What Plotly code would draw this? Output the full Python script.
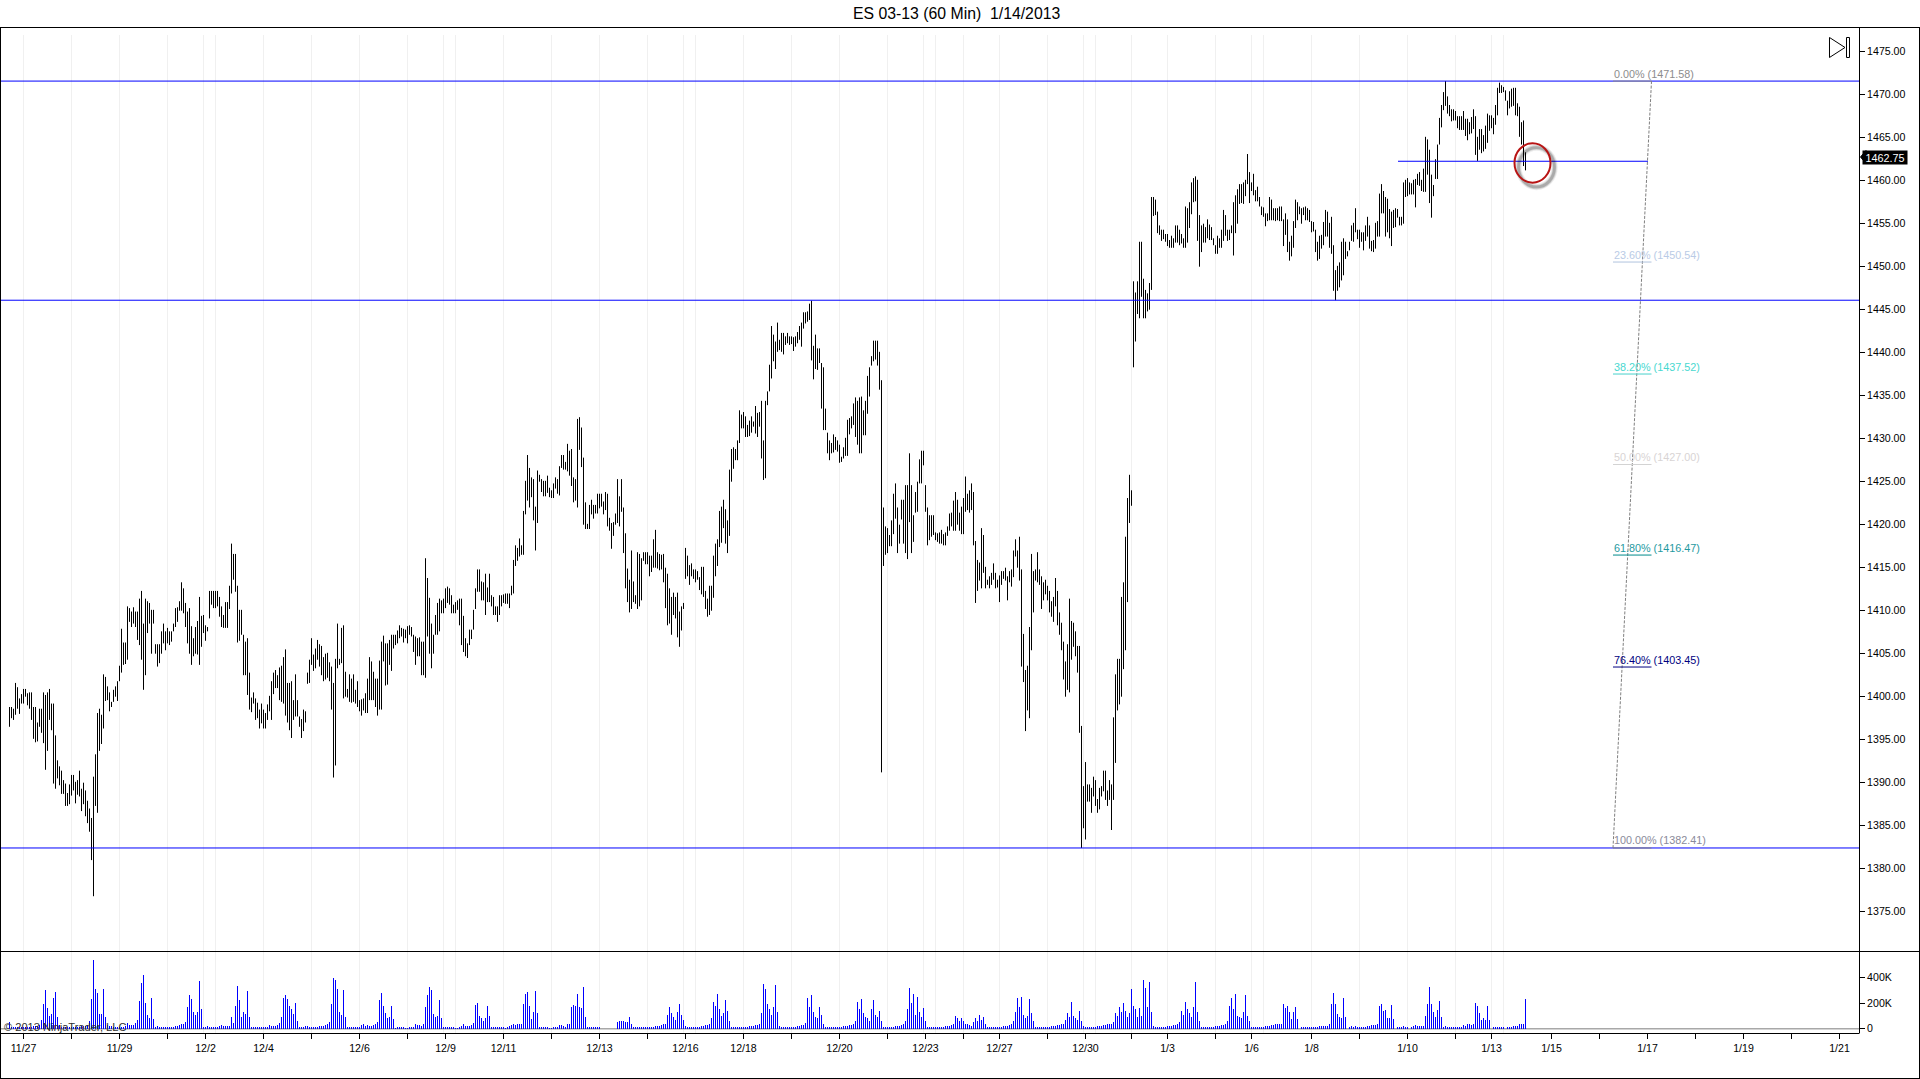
import plotly.graph_objects as go

FONT = "Liberation Sans"
W, H = 1920, 1079

title_text = "ES 03-13 (60 Min)  1/14/2013"
copyright_text = "© 2013 NinjaTrader, LLC"
last_price = 1462.75

# High/low of every 60 minute bar, left to right
bars_nov_dec = [
(1398.8,1396.5),(1398.8,1397.5),(1398.6,1397.3),(1401.6,1397.9),(1401.1,1398.6),(1399.8,1398),(1400.3,1399.2),(1400.9,1399.2),(1400.9,1400),(1400.4,1399),
(1400.5,1398.6),(1400.5,1397.3),(1398.8,1395.1),(1398.8,1394.7),(1397,1394.8),(1398.6,1396.5),(1398.6,1395.8),(1400.5,1394.6),(1400.2,1391.5),(1400.5,1393.7),
(1400.9,1397.3),(1399.2,1396.1),(1399.2,1389.9),(1395.5,1389.3),(1392.6,1390.5),(1391.9,1389.7),(1391.4,1388.7),(1390.3,1388.7),(1389.9,1387.3),(1388.8,1387.3),
(1389.8,1387.5),(1390.9,1388.5),(1390.9,1389.1),(1390.1,1387.6),(1390.3,1388.6),(1391.4,1388.4),(1389.3,1386.7),(1390,1387.5),(1389.1,1386.1),(1387.9,1385.3),
(1387,1384.3),(1385.9,1381),(1390.7,1376.8),(1393.3,1387.3),(1398.1,1386.5),(1398.6,1393.7),(1397.9,1394.5),(1402.6,1396.3),(1402.3,1399.5),(1401.2,1399.6),
(1400.5,1398.3),(1399.4,1398.8),(1400.8,1399.4),(1401.2,1400),(1401.8,1399.5),(1403.6,1401.8),(1407.9,1402.8),(1406.3,1403.7),(1406.3,1403.8),(1410.5,1404.3),
(1410.3,1408.7),(1409.9,1408.1),(1410.4,1408.5),(1409.9,1408.1),(1409.9,1406.6),(1411.4,1406),(1412.3,1404.3),(1408.5,1400.8),(1411.4,1402.5),(1411.1,1407.4),
(1410.9,1408.5),(1410.1,1405),(1410.1,1408.5),(1406.1,1405),(1406.1,1403.5),(1406.1,1403.9),(1407.6,1405),(1408.5,1406.2),(1407.6,1405.4),(1408,1406.2),
(1407.6,1406),(1407.6,1406.4),(1408.5,1407.6),(1410.3,1408.1),(1410.4,1408.7),(1411.1,1410),(1413.3,1410),(1412.6,1409.7),(1410.9,1408.1),(1409.9,1406.2),
(1410.3,1405),(1408.2,1403.7),(1406.8,1404.7),(1408.1,1405),(1408.8,1404.9),(1411.6,1403.7),(1409.4,1405.8),(1409.5,1407.4),(1408.3,1406.5),(1408.1,1407.6),
(1412.3,1409.1),(1412.3,1410.7),(1412.3,1410.3),(1412.3,1410.3),(1412.3,1410.5),(1411.6,1409.3),(1410.5,1408.1),(1409.5,1408),(1411,1408),(1411,1408),(1412.9,1410.2),
(1417.8,1412),(1416.6,1413.6),(1416.6,1412.2),(1412.9,1406.3),(1410.1,1406.5),(1410.1,1407.2),(1407.2,1402.5),(1406.4,1402.5),(1406.8,1400.2),(1402.8,1398.5),
(1399.9,1398.2),(1400.5,1399.2),(1399.8,1397.3),(1399.3,1397.5),(1398.5,1396.3),(1399.2,1396.9),(1398.5,1396.3),(1398.1,1396.3),(1399.1,1397.3),(1400.1,1398.3),
(1401.8,1397.3),(1402.8,1400.3),(1403.1,1401),(1402.5,1401),(1403.4,1399.6),(1403.6,1399.4),(1404.6,1399.2),(1405.5,1397.8),(1401.6,1397),(1401.6,1396.1),
(1401.8,1395.2),(1399.6,1397.3),(1402.6,1397.7),(1399.6,1397.7),(1397.7,1396.5),(1397.4,1395.2),(1398.5,1396),(1398.3,1397),(1402.8,1401.5),(1404.3,1401.6),
(1406.8,1403.7),(1404.9,1403),(1405.6,1403.3),(1406.6,1404.3),(1406.1,1403.5),(1405.9,1402.5),(1404.6,1401.8),(1405,1402),(1405.1,1402.2),(1404,1401.8),
(1403.5,1398.5),(1401.6,1390.6),(1404.4,1392),(1408.5,1403.3),(1404.4,1403.7),(1408,1403.9),(1408.3,1399.8),(1402.9,1400),(1400.9,1399.9),(1402.6,1399.4),
(1402.1,1399.3),(1402.6,1399.4),(1400.8,1399.2),(1401.8,1398.8),(1399.6,1398.3),(1399.7,1397.8),(1399.8,1398.4),(1400.4,1398.1),(1402.1,1398.1),(1404.6,1399.6),
(1404.1,1399.6),(1402.9,1399.6),(1402.1,1398.8),(1402.1,1397.8),(1404.2,1398.5),(1406.4,1398.5),(1407.1,1404.1),(1406.2,1401.3),(1406.2,1401.4),(1406.6,1403.7),
(1407.2,1403),(1407.2,1405.6),(1407.2,1406),(1407.7,1406.2),(1408.3,1406.8),(1408,1407),(1407.9,1406.3),(1407.8,1406.8),(1408.2,1406.2),(1408.3,1407.2),
(1408.1,1407),(1407.2,1405.2),(1407,1403.7),(1406.8,1404.7),(1406.9,1404.7),(1406.4,1402.5),(1406.4,1402.5),(1416.1,1402.2),(1413.8,1407),(1411.5,1405),
(1408.5,1403.3),(1407.2,1405),(1409.5,1407.2),(1410.9,1407.2),(1411.4,1407.6),(1411.2,1409.7),(1411.4,1409.7),(1412.6,1410.3),(1412.8,1410.9),(1412.6,1410.7),
(1411.8,1409.7),(1410.7,1409.7),(1411,1409.7),(1411.2,1410.1),(1411.4,1408.3),(1411.4,1406),(1409.4,1405.2),(1406.8,1404.7),(1406.2,1404.5),(1407.8,1406),
(1407.8,1406.7),(1410.1,1407.8),(1412.6,1410.2),(1414.8,1412.2),(1414.8,1412.2),(1413.4,1411.2),(1413.3,1411.2),(1414.3,1409.5),(1412.7,1411),(1414.3,1411),
(1411.8,1410.5),(1411.6,1409.5),(1410.5,1409.5),(1410.5,1408.7),(1411.8,1409.5),(1411.8,1410.5),(1411.9,1410.9),(1412,1410.8),(1412,1410.8),(1412,1410.3),
(1412.9,1411.8),(1415.9,1412),(1417.6,1415.2),(1417.3,1415.8),(1418.4,1416.3),(1417.6,1416.5),(1421.6,1416.5),(1425.1,1421.2),
]
bars_dec_b = [
(1428.1,1422.8),(1426.6,1422),(1425.5,1423.2),(1425.3,1420.5),(1422.1,1417),(1426.3,1420.2),(1425.8,1425),(1425.3,1423.8),(1425.1,1423.3),(1425.1,1423.3),
(1425.7,1423.7),(1424.3,1423.2),(1424,1423.1),(1424.8,1423.1),(1425.5,1424.2),(1425.3,1423.6),(1426.8,1423.4),(1428.1,1426.6),(1428.1,1426.4),(1427.3,1426.4),
(1429.4,1426.2),(1428.6,1425.7),(1428.8,1424.5),(1425.5,1422.6),(1425.3,1422.8),(1432.3,1422),(1432.5,1428.7),(1431.3,1426.7),(1427.8,1420),(1422.6,1419.5),
(1420.1,1419.5),(1422.3,1419.5),(1422.9,1421.2),(1422.3,1420.7),(1422.3,1421.3),(1423.6,1421.3),(1423.6,1421.9),(1423.6,1422.1),(1422.7,1421.2),(1423.8,1421.7),
(1423.6,1419.8),(1420.8,1419.3),(1420.2,1417.2),(1420.3,1418.7),(1421.3,1420),(1425.3,1420.2),(1423.3,1419.8),(1425.3,1421.5),(1422,1416.7),(1419,1412.6),
(1414.9,1411),(1413.6,1409.8),(1417,1410.2),(1413.4,1411),(1411.8,1410.8),(1416.8,1410.2),(1416.6,1410.5),(1416.1,1411.2),(1416.8,1415.8),(1416.8,1415.4),
(1416.8,1415.4),(1416.4,1414),(1416.4,1414.5),(1418.3,1415),(1419.4,1415),(1416.8,1414.9),(1416.6,1414.7),
]
bars_dec_c = [
(1416.5,1414.8),(1416.6,1413.3),(1415,1410.3),(1414.3,1408.3),(1412.6,1408.5),(1411.6,1407.2),(1412.1,1409.5),(1411.6,1409.1),(1412.1,1406.9),(1409.9,1405.8),
(1410.5,1407.7),(1410.9,1410.2),(1417.3,1413.7),(1416.4,1414),(1415.3,1413),(1415.5,1414),(1414.8,1413.7),(1414.8,1413.3),(1414.6,1413.6),(1413.9,1412.4),
(1415.1,1411.9),(1415.1,1411.6),(1412.3,1410.2),(1411.4,1409.3),(1412.9,1409.5),(1412.9,1410),(1416.4,1411.5),(1417.8,1414),(1418.3,1415.2),(1421.6,1417.4),(1422.1,1417.9),
(1422.9,1419.6),(1421.8,1417.8),(1420.5,1416.7),(1426.4,1418.7),(1428.8,1425),(1429,1426.5),(1428.8,1427.5),(1429.8,1427.5),(1433.3,1429.5),(1432.8,1431.2),
(1433.1,1431.2),(1432.6,1430.2),(1431.6,1430.2),(1432.1,1430.3),(1432.6,1430.7),(1432,1431.4),(1433.8,1430.6),(1433,1430.2),(1433.1,1431.4),(1434.4,1427.7),
(1429.8,1425.2),(1434.4,1425.4),(1435.5,1433.9),(1438.6,1435.5),(1443.1,1437),(1442.1,1439),(1441.3,1438.1),(1443.5,1440.1),(1441.5,1440.3),(1442.3,1440.1),
(1442.3,1439.8),(1441.9,1440.9),(1442.3,1441.1),(1441.9,1440.9),(1441.9,1441),(1441.8,1440.2),(1441.9,1440.7),(1442.4,1441.1),(1443.1,1441.5),(1443.5,1440.7),
(1444.7,1442.8),(1444.7,1443.4),(1444.8,1443.6),(1445.7,1443.8),(1446.05,1439.1),(1440.8,1436.9),(1442.1,1438.1),(1440.5,1438),(1440.5,1438.8),(1438.8,1433.5),
(1438.3,1431),(1433.5,1431),(1430.7,1428.3),(1429.8,1427.5),(1429.5,1428.3),(1430.5,1428.4),(1430.2,1428.7),(1429.8,1428.5),(1429.3,1427.2),(1427.9,1427.3),
(1429,1427.7),(1430.1,1428),(1432.2,1428),(1432.4,1430.5),(1432.6,1431.2),(1434.1,1431.6),(1434.8,1430.2),(1434.4,1429.3),(1434.8,1428.3),(1434.9,1428.3),
(1433.3,1430.4),(1434.4,1430.4),(1437.3,1432.9),(1438.3,1434.9),(1439.6,1438.5),(1441.4,1439),(1441.4,1439.2),(1441.4,1438.5),(1440.1,1435.7),(1436.8,1391.2),
]
bars_dec_d = [
(1422,1415.2),(1419.8,1416.5),(1419.6,1416.7),(1418.8,1417.5),(1420.5,1417.5),(1423.6,1418.9),(1424.8,1420.7),(1422,1416.7),(1420,1417.8),(1422.9,1420.6),
(1422.9,1417.8),(1424.6,1416.7),(1424.6,1416),(1428.3,1420.3),(1424.6,1416.7),(1421.1,1418),(1423.8,1421.4),(1425,1421.5),(1427.6,1424.8),(1428.6,1424.8),
(1428.6,1426.9),(1424.6,1421.5),(1422,1417.6),(1421.1,1418.2),(1421.1,1418.6),(1421.1,1418.8),(1419.1,1418.2),(1419,1418),(1419.1,1417.8),(1419.4,1417.8),
(1418.9,1417.6),(1419.1,1417.6),(1419.8,1418.7),(1421.3,1419.3),(1421.4,1419.8),(1422.8,1419.3),(1423.8,1419.3),(1422.9,1420),(1421.4,1419.3),(1422.1,1418.9),
(1423.1,1418.9),(1425.6,1421.5),(1423.6,1421.7),(1424,1421.4),(1424.8,1421.7),(1423.8,1417.6),(1418.1,1410.9),(1415.9,1412.3),(1415.6,1413.5),(1419.6,1412.6),
(1418.8,1414.4),(1415.1,1412.6),(1413.6,1413),(1414,1412.6),(1414.4,1413),(1415.5,1413.6),(1414.4,1412.6),(1413.6,1412.7),(1414.1,1411),
]
bars_dec_e = [
(1414.6,1413),(1414.6,1413.7),(1415,1413.5),(1414,1411.2),(1414.6,1413.3),(1414.8,1412.8),(1417,1413.9),(1418.3,1416.3),(1417,1415),(1418.6,1413.5),
(1414.8,1403.5),(1407.3,1401.7),(1403.1,1396),(1403.6,1398.4),(1408.1,1397.5),(1416.6,1405.4),(1414.6,1409.8),(1414.8,1413.5),(1416.8,1413.3),(1414.8,1413),
(1414,1410.2),(1413.3,1411.2),(1413.6,1411.9),(1412.9,1411.2),(1412.3,1409.8),(1411.1,1409.3),(1411.6,1408.7),(1413.8,1410.5),(1412.3,1408.3),(1409.8,1407.2),
(1408.6,1405.4),(1406.4,1402),(1404.1,1400),(1406.1,1400.8),(1411.4,1400.5),(1408.8,1404.3),(1408.6,1405.8),(1407.6,1404.7),(1405.9,1402.8),(1405.9,1395.8),
(1396.6,1382.41),(1389.6,1384.7),(1392.4,1383.4),(1389.8,1387.8),(1389.8,1387.8),(1389.4,1386.5),(1390.7,1388.4),(1390.3,1387.3),(1388.1,1386.5),(1389.4,1386.9),
(1389.6,1388.4),(1391.4,1389),(1391.4,1388),(1389.1,1387.3),(1390.3,1388),(1389.8,1384.5),(1397.6,1388),(1402.6,1392.3),(1404.4,1398.4),(1404.4,1399.1),
(1411.6,1400),(1413.3,1403.2),(1418.6,1405.4),(1423.1,1411),(1425.8,1420.2),(1424,1422.2),
]
bars_jan = [
(1448.3,1438.3),(1447,1441.3),(1448.3,1444.5),(1452.9,1444),(1452.9,1446.5),(1448.6,1444),(1447.3,1444),(1446.9,1444.8),(1448.1,1445),(1458.1,1447.3),
(1458.1,1455.9),(1457.8,1456),(1456.4,1453.9),(1454.8,1453.7),(1454.3,1453),(1454.3,1453.2),(1453.8,1452.9),(1453.8,1452.4),(1453.1,1452.2),(1453.6,1452.2),
(1453.3,1452.2),(1454.8,1452.8),(1454.8,1452.8),(1454.3,1452.5),(1453.8,1452.7),(1453.3,1452.2),(1457,1452.2),(1456.8,1452.8),(1457.5,1454.5),(1459.8,1456.1),
(1460.3,1457.5),(1460.5,1457.6),(1460.1,1453),(1456,1450),(1454.8,1451.7),(1455,1452.8),(1454.6,1452.8),(1455.5,1453.3),(1454.9,1453.1),(1454.6,1453.1),
(1453.3,1452.5),(1452.5,1451.5),(1453.6,1451.5),(1453.3,1452.2),(1454.3,1452.2),(1456.6,1453),(1456,1453.6),(1454.3,1453),(1454.3,1453.1),(1454.8,1453.9),
(1457.5,1451.3),(1458.3,1453.9),(1459,1455),(1459.6,1457.3),(1459.6,1457.4),(1459.8,1457.3),(1460.1,1458.2),(1463.1,1459.6),(1461,1457.4),(1459.8,1458.8),
(1460.8,1458.3),(1458.9,1457.6),(1459.3,1457.6),(1458.1,1457),(1457,1456),(1456.9,1455.8),(1456.2,1454.7),(1456.2,1455.3),(1458.1,1455.4),(1457.8,1455.4),
(1456.8,1455.4),(1456.8,1455.3),(1456.8,1455.4),(1457,1455.3),(1457,1455.3),(1455.5,1452.4),(1456.2,1453.7),(1455.5,1451.7),(1452.9,1450.7),(1453.6,1451.2),
(1455.3,1452.2),(1457.8,1454.5),(1457.5,1455.4),(1457,1456.1),(1456.8,1455),(1456.9,1456),(1457,1455.4),(1456.8,1455.4),(1456.6,1455.2),(1455.3,1454),
(1455.2,1454.1),(1454.3,1451.7),(1452.9,1450.7),(1453.6,1450.9),(1453.7,1452.1),(1455.2,1452.5),(1456.6,1453.5),(1456.4,1453.5),(1455.1,1452.2),(1455.8,1451.5),
(1452.5,1447.2),(1449.6,1446.1),(1450.1,1447.2),(1450.5,1447.6),(1452.9,1448.4),(1453.3,1449),(1452.9,1450.9),(1451.8,1451.2),(1452.9,1451.9),(1454.8,1453),
(1455.1,1452.9),(1456.8,1454),(1454.3,1453.2),(1454.3,1452.2),(1454,1452.9),(1454,1451.9),(1454.8,1453),(1455.8,1453.5),(1454.8,1452.1),(1453,1451.8),
(1453.1,1451.7),(1455.1,1452.1),(1455.3,1453.5),(1458.5,1453.5),(1459.6,1456.2),(1458.8,1456.2),(1458.1,1453.5),(1457.9,1454),(1456.7,1453.3),(1456.4,1452.4),
(1456.6,1454.5),(1456.8,1454.6),(1456.7,1455.7),(1455.8,1454.8),(1455.8,1454.8),(1459.8,1455),(1460.1,1458.1),(1460.3,1458.2),(1459.8,1458.4),(1459.7,1458.4),
(1460.1,1458.4),(1460.2,1456.9),(1460.8,1459.5),(1461,1459.4),(1460.1,1458.8),(1461.4,1458.7),(1465.1,1458.7),(1464.8,1460.7),(1463.6,1457.4),(1460.7,1455.7),
(1459.5,1458.2),(1462.5,1460.2),(1464.2,1460.2),(1467.3,1464.2),(1468.8,1466.2),(1470.3,1468.2),(1471.58,1468.7),(1469.8,1467.8),(1468.8,1467.5),(1468.3,1466.9),
(1468.3,1467),(1468.1,1467),(1467.5,1466.1),(1467.5,1465.9),(1467.5,1465.9),(1468.1,1465.9),(1467.2,1465.2),(1467.2,1464.7),(1466.8,1465.4),(1467.4,1465.5),
(1468.3,1466),(1467.5,1463),(1465.1,1462.3),(1466,1463.6),(1466,1463.2),(1465.3,1463.4),(1466.4,1463.7),(1467.8,1464.4),(1467.6,1465.8),(1467.6,1466.1),
(1467.3,1465.4),(1468.8,1466.5),(1470.8,1467.6),(1471.4,1470.2),(1471.1,1470.2),(1470.9,1470.3),(1470.5,1469.3),(1469.3,1467.6),(1470.4,1468.4),(1470.7,1468.6),
(1470.8,1468.7),(1470.8,1467.6),(1469,1467.5),(1468.6,1465.1),(1466.8,1464.2),(1467,1461.7),(1463.3,1461.2),
]
all_bars = bars_nov_dec + bars_dec_b + bars_dec_c + bars_dec_d + bars_dec_e + bars_jan
highs = [b[0] for b in all_bars]
lows = [b[1] for b in all_bars]

# Volume of each bar, in thousands of contracts
vol_nov = [50,15,12,12,15,14,12,14,12,15,16,15,18,20,25,30,68,192,300,164,100,115,240,286,94,30,
14,12,10,12,14,12,11,12,14,15,18,22,25,30,62,230,535,310,280,115,115,310,94,28,
20,18,15,15,14,14,12,15,18,42,28,28,28,42,68,216,356,419,203,109,83,240,75,10,20]
vol_dec_a = [15,15,15,15,15,15,15,15,20,20,28,36,36,55,169,262,231,130,107,130,372,153,15,15,
18,14,16,14,14,15,20,28,22,22,25,20,94,47,177,333,224,94,130,115,294,94,12,
12,12,12,12,12,12,12,14,28,22,22,20,28,47,90,240,263,231,177,153,115,203,62,12,
15,15,18,22,14,14,12,14,16,22,20,20,28,36,52,192,395,380,310,130,107,302,94,14]
vol_dec_b = [14,12,12,12,12,12,28,36,20,28,20,25,28,36,52,224,278,177,122,83,94,177,75,5,
14,14,14,14,5,5,14,14,14,36,31,26,20,36,169,262,325,302,115,88,99,224,83,15,
14,14,14,14,8,5,5,14,20,36,20,18,20,28,47,185,200,99,81,62,83,177,99,15,
14,14,14,14,14,14,5,14,20,26,36,31,36,36,36,192,270,286,177,78,130,294,122,14,14,
14,14,14,5,5,14,14,14,28,28,20,14,36,36,169,182,177,270,169,160,325,94,14,
14,14,14,14,14,14,0,0,0,0,0,0,0,0,50,62,62,62,50,50,94,36,14,14]
vol_dec_c = [14,12,12,10,10,10,12,14,15,18,20,22,28,36,40,110,170,120,90,70,130,190,110,70,20,
14,14,12,12,12,14,14,18,20,28,30,40,80,210,180,270,150,100,120,220,140,60,15,14,14,
12,12,12,14,14,16,18,20,24,28,32,40,120,350,310,190,150,110,170,340,130,20,14,
12,12,12,12,14,14,16,20,24,28,30,45,240,170,260,130,90,80,170,110,40,14,
12,12,12,12,12,14,14,16,18,20,24,28,30,36,60,210,150,230,120,90,80,60,150,220,110,90,140,60,14,
12,12,12,14,16,18,20,24,30,36,60,150,320,200,270,110,250,130,90,160,60,14]
vol_dec_d = [12,12,12,12,14,14,14,16,18,20,24,28,36,100,80,60,85,60,40,40,30,24,50,80,60,110,70,90,40,14,12,
12,12,12,14,14,16,18,20,24,28,36,60,130,240,170,250,110,80,100,230,120,60,15,14,
12,12,12,14,14,16,18,20,24,28,30,36,40,70,120,90,210,100,80,70,140,60,20,14,
12,12,14,14,16,18,20,24,28,30,36,36,40,50,120,100,170,130,200,140,90,120,310,180,150,90,160,100,380,320,170,360,130,20,14,14,14]
vol_jan = [12,14,14,18,20,24,28,32,36,50,140,110,210,150,120,90,170,360,130,60,14,14,
12,12,14,14,16,18,20,24,28,30,36,60,180,240,150,270,100,90,80,130,260,100,60,14,
14,12,12,14,14,16,18,20,24,28,30,36,40,36,
36,192,161,177,130,75,130,169,75,0,15,15,15,15,15,15,15,15,15,25,20,20,20,25,36,192,278,192,115,91,83,240,91,0,
13,20,13,20,13,13,13,13,13,20,23,28,28,28,36,177,192,138,146,83,83,185,75,0,10,10,10,20,13,13,0,13,18,28,20,20,23,25,
99,192,325,192,130,91,146,216,91,13,20,13,13,13,13,13,13,13,13,28,20,36,36,28,36,198,177,122,68,81,68,177,68,0,
13,13,13,13,13,13,0,13,13,15,20,20,20,36,36,36,231]
volumes = vol_nov + vol_dec_a + vol_dec_b + vol_dec_c + vol_dec_d + vol_jan

# Horizontal reference levels drawn by the chart's author
full_levels = [1471.58, 1446.1, 1382.41]
short_level = 1462.26
short_level_slots = [694.25, 819.25]

# Fibonacci tool
fib_pct = ["0.00%", "23.60%", "38.20%", "50.00%", "61.80%", "76.40%", "100.00%"]
fib_val = [1471.58, 1450.54, 1437.52, 1427.00, 1416.47, 1403.45, 1382.41]
fib_col = ["#8c8c8c", "#b0c4de", "#48d1cc", "#d3d3d3", "#008b8b", "#000080", "#808080"]
fib_txt = ["#8c8c8c", "#b9cbe6", "#48d8d0", "#d8d4d4", "#1f9a9f", "#000080", "#8a8a9a"]
fib_slots = [801.75, 821.0]

# Axes
price_ticks = [1375,1380,1385,1390,1395,1400,1405,1410,1415,1420,1425,1430,1435,1440,1445,1450,1455,1460,1465,1470,1475]
volume_ticks = [0, 200, 400]
volume_tick_text = ["0", "200K", "400K"]
date_slots = [7,31,55,79,98,127,151,175,199,218,247,271,295,319,338,367,391,415,439,458,477,495,519,538,561,579,603,621,651,675,699,723,741,771,795,819,843,867,891,915]
date_text = ["11/27","","11/29","","12/2","12/4","","12/6","","12/9","12/11","","12/13","","12/16","12/18","","12/20","","12/23","","12/27","","12/30","","1/3","","1/6","1/8","","1/10","","1/13","1/15","","1/17","","1/19","","1/21"]
grid_slots = [7,31,55,79,97,103,127,151,175,199,217,223,247,271,295,319,337,343,367,391,415,439,457,463,477,495,519,537,543,561,579,603,621,627,651,675,699,723,741,747]


def py(px):  # paper y from a pixel row
    return 1 - px / H


def pxx(px):  # paper x from a pixel column
    return px / W


x_right = 1859
fig = go.Figure()

# Bars
bx, by = [], []
for i, (h, l) in enumerate(zip(highs, lows)):
    bx += [i, i, None]
    by += [h, l, None]
fig.add_trace(go.Scatter(x=bx, y=by, mode="lines", line=dict(color="#000000", width=1), hoverinfo="skip", showlegend=False, xaxis="x", yaxis="y"))

# Volume
fig.add_trace(go.Bar(x=list(range(len(volumes))), y=volumes, width=0.5, marker=dict(color="#0000ff", line=dict(width=0)), hoverinfo="skip", showlegend=False, xaxis="x", yaxis="y2"))

# Levels
for lv in full_levels:
    fig.add_trace(go.Scatter(x=[-4.75, 924.75], y=[lv, lv], mode="lines", line=dict(color="#0000ff", width=1), hoverinfo="skip", showlegend=False))
fig.add_trace(go.Scatter(x=short_level_slots, y=[short_level, short_level], mode="lines", line=dict(color="#0000ff", width=1), hoverinfo="skip", showlegend=False))

# Fibonacci
fig.add_trace(go.Scatter(x=[fib_slots[1], fib_slots[0]], y=[fib_val[0], fib_val[-1]], mode="lines", line=dict(color="#7f7f7f", width=1, dash="3px,1.5px"), hoverinfo="skip", showlegend=False))
annotations = []
for pct, val, c, tc in zip(fib_pct, fib_val, fib_col, fib_txt):
    fig.add_trace(go.Scatter(x=fib_slots, y=[val, val], mode="lines", line=dict(color=c, width=1), hoverinfo="skip", showlegend=False))
    annotations.append(dict(x=fib_slots[0] + 0.2, y=val, xref="x", yref="y", text=f"{pct} ({val:.2f})", showarrow=False, xanchor="left", yanchor="bottom", yshift=0.5, font=dict(family=FONT, size=10.8, color=tc), borderpad=0))

# Title, copyright, last price tag
annotations += [
    dict(x=pxx(956.5), y=py(13), xref="paper", yref="paper", text=title_text, showarrow=False, xanchor="center", yanchor="middle", font=dict(family=FONT, size=15.8, color="#000000")),
    dict(x=pxx(3), y=py(1026.5), xref="paper", yref="paper", text=copyright_text, showarrow=False, xanchor="left", yanchor="middle", font=dict(family=FONT, size=11.1, color="#303030"), borderpad=0),
    dict(x=pxx(1885), y=last_price, xref="paper", yref="y", text=f"{last_price:.2f}", showarrow=False, xanchor="center", yanchor="middle", font=dict(family=FONT, size=10.8, color="#ffffff"), bgcolor="#000000", width=44, height=13, borderpad=0),
]

shapes = []
# Vertical session grid
for s in grid_slots:
    shapes.append(dict(type="line", xref="x", yref="paper", x0=s, x1=s, y0=py(1033), y1=py(35), line=dict(color="#f0f0f0", width=1), layer="below"))
# Frame
frame = [(0, 27.5, 1919.5, 27.5), (0, 951.5, 1919.5, 951.5), (0, 1033.5, 1859.5, 1033.5), (0, 1078.5, 1919.5, 1078.5),
         (0.5, 27, 0.5, 1079), (1919.5, 27, 1919.5, 1079)]
for x0, y0, x1, y1 in frame:
    shapes.append(dict(type="line", xref="paper", yref="paper", x0=pxx(x0), x1=pxx(x1), y0=py(y0), y1=py(y1), line=dict(color="#000000", width=1)))
# Zero volume baseline
shapes.append(dict(type="line", xref="x", yref="y2", x0=-4.75, x1=924.75, y0=0, y1=0, line=dict(color="#a8a8a8", width=1.5), layer="below"))

# Red circle with soft shadow
cx0, cx1, cy0, cy1 = 752.5, 770.5, 1464.35, 1459.77
for grow, alpha in ((2.2, 0.07), (1.2, 0.12), (0.4, 0.18)):
    shapes.append(dict(type="circle", xref="x", yref="y", x0=cx0 + 2, x1=cx1 + 2, y0=cy0 - 0.5, y1=cy1 - 0.5, line=dict(color=f"rgba(0,0,0,{alpha})", width=2 + grow * 2)))
shapes.append(dict(type="circle", xref="x", yref="y", x0=cx0, x1=cx1, y0=cy0, y1=cy1, line=dict(color="#b81414", width=2)))


def poly(points, fill):
    d = "M " + " L ".join(f"{pxx(a):.5f} {py(b):.5f}" for a, b in points) + " Z"
    return dict(type="path", xref="paper", yref="paper", path=d, fillcolor=fill, line=dict(color="#000000", width=1))


# Go-to-end icon
shapes.append(poly([(1829.5, 37.5), (1845, 47.5), (1829.5, 57.5)], "#ffffff"))
shapes.append(poly([(1846.5, 37.5), (1849.5, 37.5), (1849.5, 57.5), (1846.5, 57.5)], "#ffffff"))
# Arrow of the last price tag
shapes.append(poly([(1860.5, 157), (1866, 150.5), (1866, 163.5)], "#000000"))

axis_font = dict(family=FONT, size=10.6, color="#000000")
fig.update_layout(
    width=W, height=H, margin=dict(l=0, r=0, t=0, b=0), paper_bgcolor="#ffffff", plot_bgcolor="#ffffff",
    showlegend=False, bargap=0, annotations=annotations, shapes=shapes,
    xaxis=dict(domain=[0, x_right / W], range=[-4.75, 924.75], anchor="y2", tickmode="array", tickvals=date_slots, ticktext=date_text,
               showgrid=False, zeroline=False, showline=False, ticks="outside", ticklen=5, tickwidth=1, tickcolor="#000000", tickfont=axis_font, tickangle=0),
    yaxis=dict(domain=[py(951), py(27)], range=[1370.43, 1477.87], side="right", anchor="x", tickmode="array", tickvals=price_ticks,
               ticktext=[f"{v:.2f}" for v in price_ticks], showgrid=False, zeroline=False, showline=True, linecolor="#000000", linewidth=1,
               ticks="outside", ticklen=5, tickwidth=1, tickcolor="#000000", tickfont=axis_font),
    yaxis2=dict(domain=[py(1033), py(951)], range=[-33, 605], side="right", anchor="x", tickmode="array", tickvals=volume_ticks, ticktext=volume_tick_text,
                showgrid=False, zeroline=False, showline=True, linecolor="#000000", linewidth=1, ticks="outside", ticklen=5, tickwidth=1, tickcolor="#000000", tickfont=axis_font),
)

fig.write_html("out.html", config=dict(displayModeBar=False), post_script="document.body.style.margin='0';document.body.style.overflow='hidden';")
